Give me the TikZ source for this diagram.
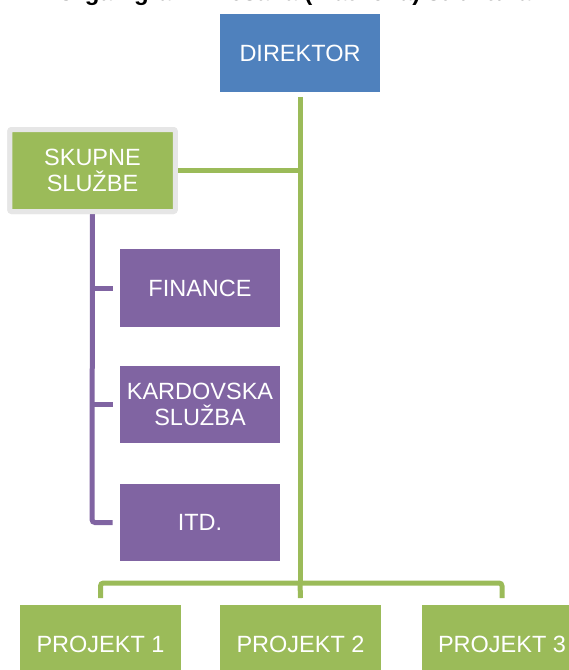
\documentclass[tikz,border=0pt]{standalone}
\usepackage{fontspec}
\setmainfont{Liberation Sans}
\usetikzlibrary{calc}
\definecolor{dirblue}{HTML}{4F81BD}
\definecolor{orggreen}{HTML}{9BBB59}
\definecolor{orgpurple}{HTML}{8064A2}
\definecolor{framegray}{HTML}{E6E6E6}
\tikzset{
  box/.style={inner sep=0pt, minimum width=160.5pt, minimum height=77.5pt,
    text=white, align=center, font=\fontsize{23.5}{25.5}\selectfont},
  dirbox/.style={box, fill=dirblue},
  projbox/.style={box, fill=orggreen},
  unitbox/.style={box, fill=orgpurple},
  servbox/.style={box, fill=orggreen, draw=framegray, line width=5pt,
    rounded corners=2pt, minimum width=165.5pt, minimum height=82pt},
  gline/.style={draw=orggreen, line width=5pt},
  pline/.style={draw=orgpurple, line width=5pt},
}
\begin{document}
\begin{tikzpicture}[x=1pt,y=-1pt]
\useasboundingbox (0,0) rectangle (569,670);
\clip (0,0) rectangle (569,670);

% heading, only its lower edge lies inside the page
\node[anchor=base, font=\bfseries\fontsize{24}{28}\selectfont] (title) at (294,0)
  {Organigram: Mešana (matrična) struktura};

% junctions on the main green line
\coordinate (hubserv) at (300,170.5);
\coordinate (hubproj) at (300,583);

\node[dirbox] (dir) at (300,53) {DIREKTOR};
\node[projbox] (p1) at (100.5,644) {PROJEKT 1};
\node[projbox] (p2) at (300.5,644) {PROJEKT 2};
\node[projbox] (p3) at (502,644) {PROJEKT 3};
\node[unitbox] (fin) at (200,288) {FINANCE};
\node[unitbox] (kad) at (200,404.5) {KARDOVSKA\\SLUŽBA};
\node[unitbox] (itd) at (200,522.5) {ITD.};

% green line from the director down to the projects
\path[gline] ($(dir.south)+(0,5)$) -- (hubproj);
\path[gline, rounded corners=3pt] ($(p1.north)+(0,-7)$) |- (hubproj) -| ($(p3.north)+(0,-7)$);
\path[gline] (hubproj) -- ($(p2.north)+(0,-7)$);

% shared services branch
\node[servbox] (serv) at (92.5,170.5) {SKUPNE\\SLUŽBE};
\path[gline] (serv.east) -- (hubserv);

% purple tree of the shared services
\path[pline, rounded corners=3pt] (serv.south) -- (92,522.5) -- ($(itd.west)+(-7,0)$);
\path[pline] (92,288) -- ($(fin.west)+(-7,0)$);
\path[pline] (92,404.5) -- ($(kad.west)+(-7,0)$);

% frame drawn again above the line ends
\node[servbox] at (serv) {SKUPNE\\SLUŽBE};
\end{tikzpicture}
\end{document}
